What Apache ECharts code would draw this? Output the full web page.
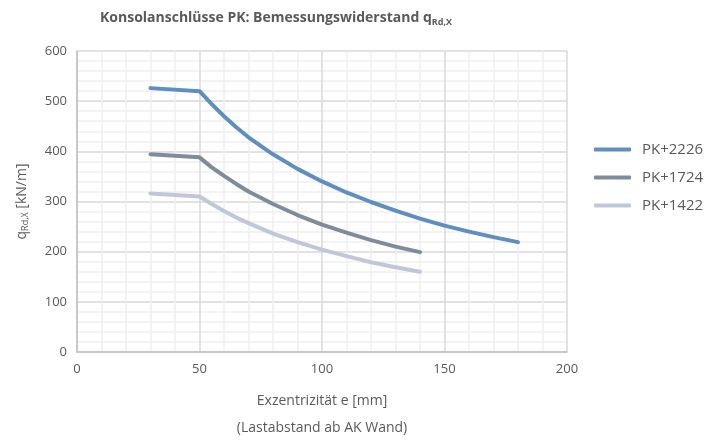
<!DOCTYPE html>
<html>
<head>
<meta charset="utf-8">
<script src="https://cdn.jsdelivr.net/npm/echarts@6/dist/echarts.min.js"></script>
<style>html,body{margin:0;padding:0;background:#fff;overflow:hidden}#c{width:728px;height:447px}</style>
</head>
<body>
<div id="c"></div>
<script>
const xVals2226 = [30, 50, 55, 60, 65, 70, 80, 90, 100, 110, 120, 130, 140, 150, 160, 170, 180];
const pk2226 =    [526, 520, 494, 470, 448, 428, 394, 365, 340, 318, 299, 282, 266, 252, 240, 229, 219];
const xVals1724 = [30, 50, 55, 60, 65, 70, 80, 90, 100, 110, 120, 130, 140];
const pk1724 =    [394, 388, 368, 351, 335, 320, 295, 273, 254, 238, 223, 210, 199];
const xVals1422 = [30, 50, 55, 60, 65, 70, 80, 90, 100, 110, 120, 130, 140];
const pk1422 =    [316, 310, 295, 281, 268, 257, 236, 219, 204, 191, 179, 169, 160];
const seriesNames = ['PK+2226', 'PK+1724', 'PK+1422'];
const colors = ['#5e8fc0', '#7f8c9b', '#c0c7da'];

const pair = (xs, ys) => xs.map((x, i) => [x, ys[i]]);
const datasets = [pair(xVals2226, pk2226), pair(xVals1724, pk1724), pair(xVals1422, pk1422)];

const txt = '#595959';
const ff = '"Open Sans", "Noto Sans", sans-serif';
const chart = echarts.init(document.getElementById('c'));
chart.setOption({
  animation: false,
  textStyle: { fontFamily: ff },
  title: {
    text: '{m|Konsolanschlüsse PK: Bemessungswiderstand q}{s|Rd,X}',
    left: 95, top: 5,
    textStyle: {
      rich: {
        m: { fontSize: 14, fontWeight: 'bold', color: txt, fontFamily: ff },
        s: { fontSize: 9, fontWeight: 'bold', color: txt, fontFamily: ff, padding: [8, 0, 0, 0] }
      }
    }
  },
  legend: {
    orient: 'vertical', left: 589, top: 137,
    itemWidth: 37, itemHeight: 4, itemGap: 13,
    icon: 'roundRect',
    textStyle: { fontSize: 15, color: txt, fontFamily: ff, padding: [0, 0, 0, 6] },
    data: seriesNames
  },
  grid: { left: 77, right: 161, top: 51, bottom: 85 },
  xAxis: {
    type: 'value', min: 0, max: 200, interval: 50,
    name: 'Exzentrizität e [mm]\n(Lastabstand ab AK Wand)',
    nameLocation: 'middle', nameGap: 36,
    nameTextStyle: { fontSize: 14, color: txt, lineHeight: 27, fontFamily: ff, verticalAlign: 'top' },
    axisLine: { lineStyle: { color: '#bfbfbf', width: 1.5 } },
    axisTick: { show: false },
    axisLabel: { fontSize: 13, color: txt, margin: 11, fontFamily: ff },
    splitLine: { lineStyle: { color: '#d9d9d9', width: 1.5 } },
    minorTick: { show: false, splitNumber: 5 },
    minorSplitLine: { show: true, lineStyle: { color: '#f0f0f0', width: 1.5 } }
  },
  yAxis: {
    type: 'value', min: 0, max: 600, interval: 100,
    name: '{m|q}{s|Rd,X}{m| [kN/m]}',
    nameLocation: 'middle', nameGap: 47, nameRotate: 90,
    nameTextStyle: {
      rich: {
        m: { fontSize: 14, color: txt, fontFamily: ff },
        s: { fontSize: 9, color: txt, fontFamily: ff, padding: [7, 0, 0, 0] }
      }
    },
    axisLine: { show: true, lineStyle: { color: '#bfbfbf', width: 1.5 } },
    axisTick: { show: false },
    axisLabel: { fontSize: 13, color: txt, margin: 10, fontFamily: ff },
    splitLine: { lineStyle: { color: '#d9d9d9', width: 1.5 } },
    minorTick: { show: false, splitNumber: 5 },
    minorSplitLine: { show: true, lineStyle: { color: '#f0f0f0', width: 1.5 } }
  },
  series: seriesNames.map((n, i) => ({
    name: n, type: 'line', data: datasets[i],
    showSymbol: false, symbol: 'none',
    smooth: false,
    lineStyle: { color: colors[i], width: 4, cap: 'round', join: 'round' },
    itemStyle: { color: colors[i] },
    z: 10 - i
  }))
});
</script>
</body>
</html>
